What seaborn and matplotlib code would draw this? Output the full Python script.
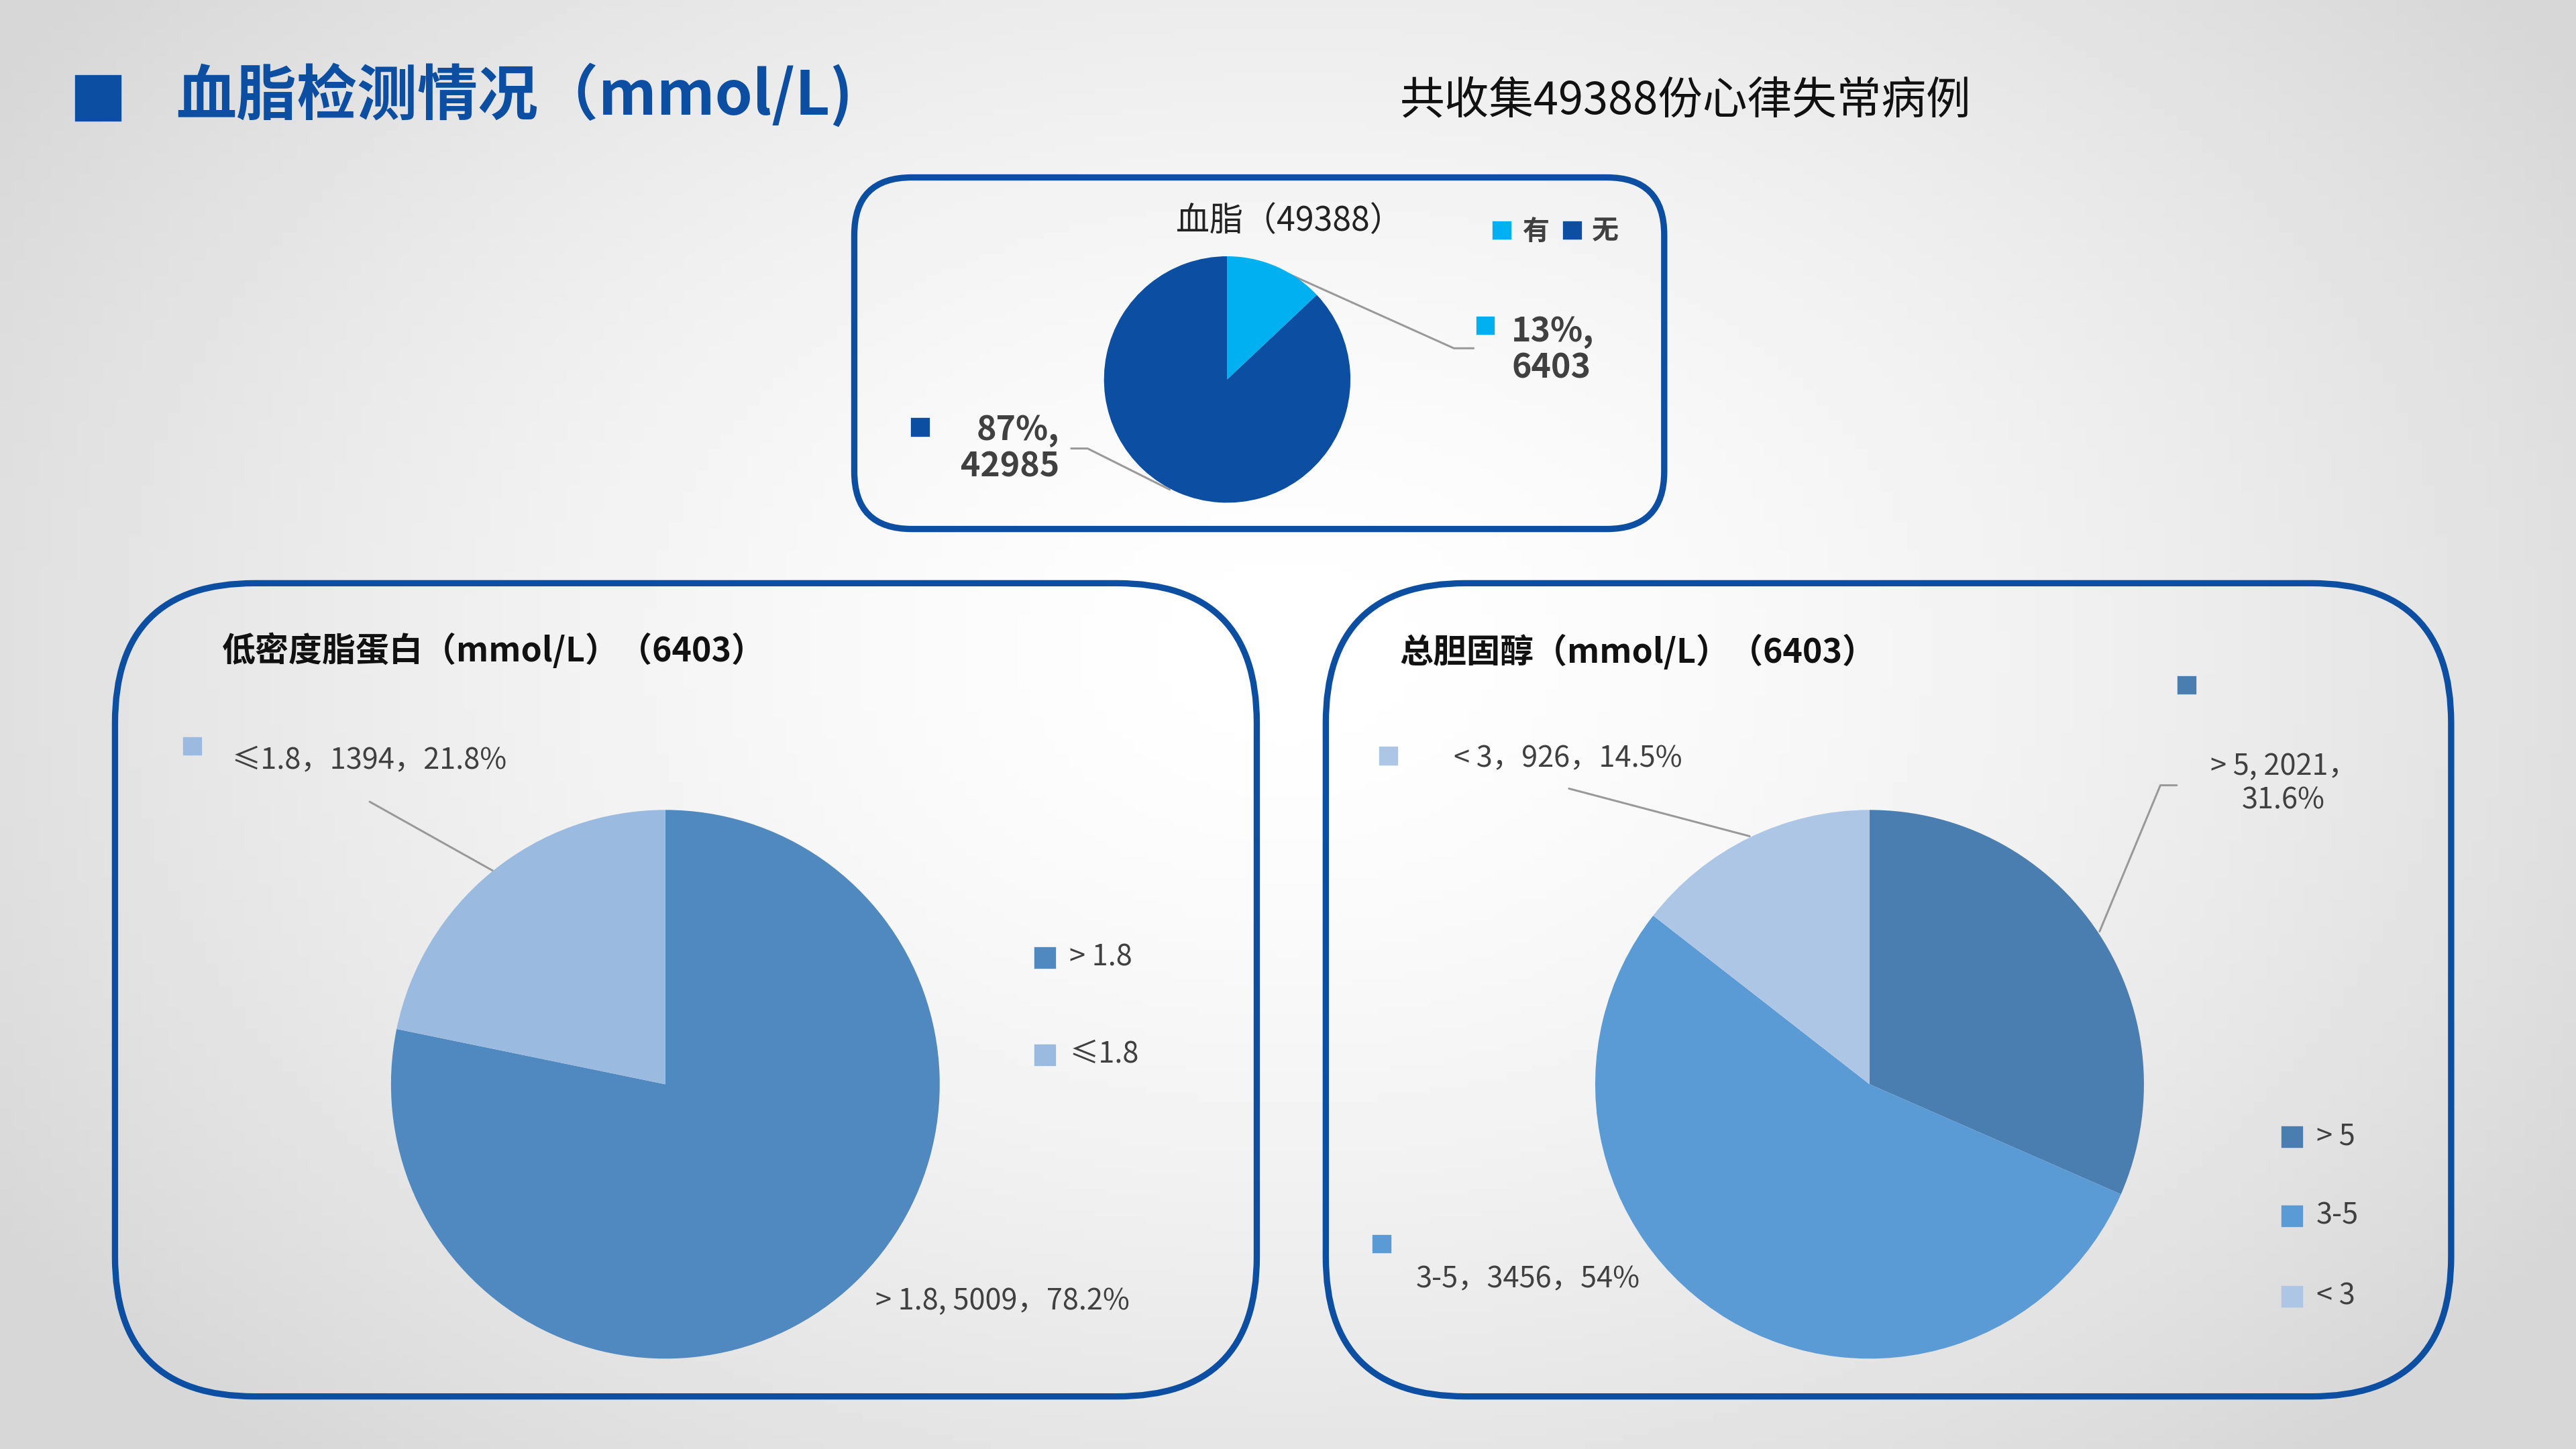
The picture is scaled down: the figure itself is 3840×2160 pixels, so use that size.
import numpy as np
import matplotlib
matplotlib.use("Agg")
import matplotlib.pyplot as plt
import seaborn as sns
from matplotlib.patches import FancyBboxPatch, Rectangle

sns.set_theme(style="white")
plt.rcParams['font.family'] = ['Noto Sans CJK SC', 'DejaVu Sans']

# ---- data ----
top_labels = ["有", "无"]
top_values = [6403, 42985]
top_pct = ["13%", "87%"]
top_colors = ["#00B0F0", "#0B4EA2"]

ldl_labels = ["> 1.8", "≤1.8"]
ldl_values = [5009, 1394]
ldl_pct = ["78.2%", "21.8%"]
ldl_colors = ["#5089BF", "#9BBAE0"]

tc_labels = ["> 5", "3-5", "< 3"]
tc_values = [2021, 3456, 926]
tc_pct = ["31.6%", "54%", "14.5%"]
tc_colors = ["#4A7EB0", "#5B9BD5", "#AEC6E6"]

W, H = 1568, 882
fig = plt.figure(figsize=(16, 9), dpi=240)
bg = fig.add_axes([0, 0, 1, 1])
bg.set_xlim(0, W); bg.set_ylim(H, 0); bg.axis("off")
yy, xx = np.mgrid[0:1:200j, 0:1:200j]
d = np.sqrt((xx - 0.5) ** 2 + ((yy - 0.45) * 0.8) ** 2)
grad = 1 - 0.16 * np.clip(d / 0.6, 0, 1) ** 1.5
bg.imshow(grad, extent=[0, W, H, 0], cmap="gray", vmin=0, vmax=1, aspect="auto", zorder=0)

dark = "#0B4EA2"
txt = "#404040"
bg.add_patch(Rectangle((46, 46), 27, 27, color=dark, zorder=2))
bg.text(107, 58, "血脂检测情况（mmol/L)", fontsize=27, fontweight="bold", color=dark, va="center", zorder=3)
bg.text(852, 62, "共收集49388份心律失常病例", fontsize=20, color="#111111", va="center", zorder=3)

def box(x0, y0, x1, y1, r):
    bg.add_patch(FancyBboxPatch((x0 + r, y0 + r), x1 - x0 - 2 * r, y1 - y0 - 2 * r,
                                boxstyle=f"round,pad={r},rounding_size={r}",
                                fc="none", ec=dark, lw=2.8, zorder=2))
box(520, 108, 1013, 322, 35)
box(70, 355, 765, 850, 85)
box(807, 355, 1492, 850, 85)

def pie(cx, cy, r, vals, cols):
    ax = fig.add_axes([(cx - r) / W, 1 - (cy + r) / H, 2 * r / W, 2 * r / H])
    ax.pie(vals, colors=cols, startangle=90, counterclock=False, radius=1,
           wedgeprops=dict(linewidth=0))
    ax.set_xlim(-1, 1); ax.set_ylim(-1, 1); ax.axis("off")
    return ax

pie(747, 231, 75, top_values, top_colors)
pie(405, 660, 167, ldl_values, ldl_colors)
pie(1138, 660, 167, tc_values, tc_colors)

def sq(x, y, c, s=10):
    bg.add_patch(Rectangle((x - s / 2, y - s / 2), s, s, color=c, zorder=3))

def line(pts):
    xs, ys = zip(*pts)
    bg.plot(xs, ys, color="#999999", lw=0.9, zorder=3)

# top chart
bg.text(785, 135, "血脂（49388）", fontsize=15, color="#222222", ha="center", va="center")
sq(914, 140, top_colors[0]); bg.text(927, 141, top_labels[0], fontsize=12, fontweight="bold", color=txt, va="center")
sq(957, 140, top_colors[1]); bg.text(969, 141, top_labels[1], fontsize=12, fontweight="bold", color=txt, va="center")
sq(904, 198, top_colors[0])
bg.text(920, 213, f"{top_pct[0]},\n{top_values[0]}", fontsize=15, fontweight="bold", color=txt, va="center", linespacing=1.1)
sq(560, 260, top_colors[1])
bg.text(645, 273, f"{top_pct[1]},\n{top_values[1]}", fontsize=15, fontweight="bold", color=txt, va="center", ha="right", linespacing=1.1)
line([(785, 167), (885, 212), (897, 212)])
line([(652, 273), (662, 273), (712, 298)])

# LDL
bg.text(135, 396, "低密度脂蛋白（mmol/L）（6403）", fontsize=15, fontweight="bold", color="#111111", va="center")
sq(117, 454, ldl_colors[1])
bg.text(141, 463, f"≤1.8，{ldl_values[1]}，{ldl_pct[1]}", fontsize=13, color=txt, va="center")
line([(225, 488), (300, 530)])
bg.text(533, 792, f"> 1.8, {ldl_values[0]}，{ldl_pct[0]}", fontsize=13, color=txt, va="center")
for i, y in enumerate([583, 642]):
    sq(636, y, ldl_colors[i], 12)
    bg.text(651, y, ldl_labels[i], fontsize=13, color=txt, va="center")

# TC
bg.text(852, 397, "总胆固醇（mmol/L）（6403）", fontsize=15, fontweight="bold", color="#111111", va="center")
sq(1331, 417, tc_colors[0])
bg.text(1390, 477, f"> 5, {tc_values[0]}，\n{tc_pct[0]}", fontsize=13, color=txt, va="center", ha="center", linespacing=1.2)
line([(1325, 478), (1315, 478), (1278, 567)])
sq(845, 460, tc_colors[2])
bg.text(885, 462, f"< 3，{tc_values[2]}，{tc_pct[2]}", fontsize=13, color=txt, va="center")
line([(955, 480), (1065, 509)])
sq(841, 757, tc_colors[1])
bg.text(862, 779, f"3-5，{tc_values[1]}，{tc_pct[1]}", fontsize=13, color=txt, va="center")
for i, y in enumerate([692, 740, 789]):
    sq(1395, y, tc_colors[i], 12)
    bg.text(1410, y, tc_labels[i], fontsize=13, color=txt, va="center")

fig.savefig("out.png", dpi=240)
